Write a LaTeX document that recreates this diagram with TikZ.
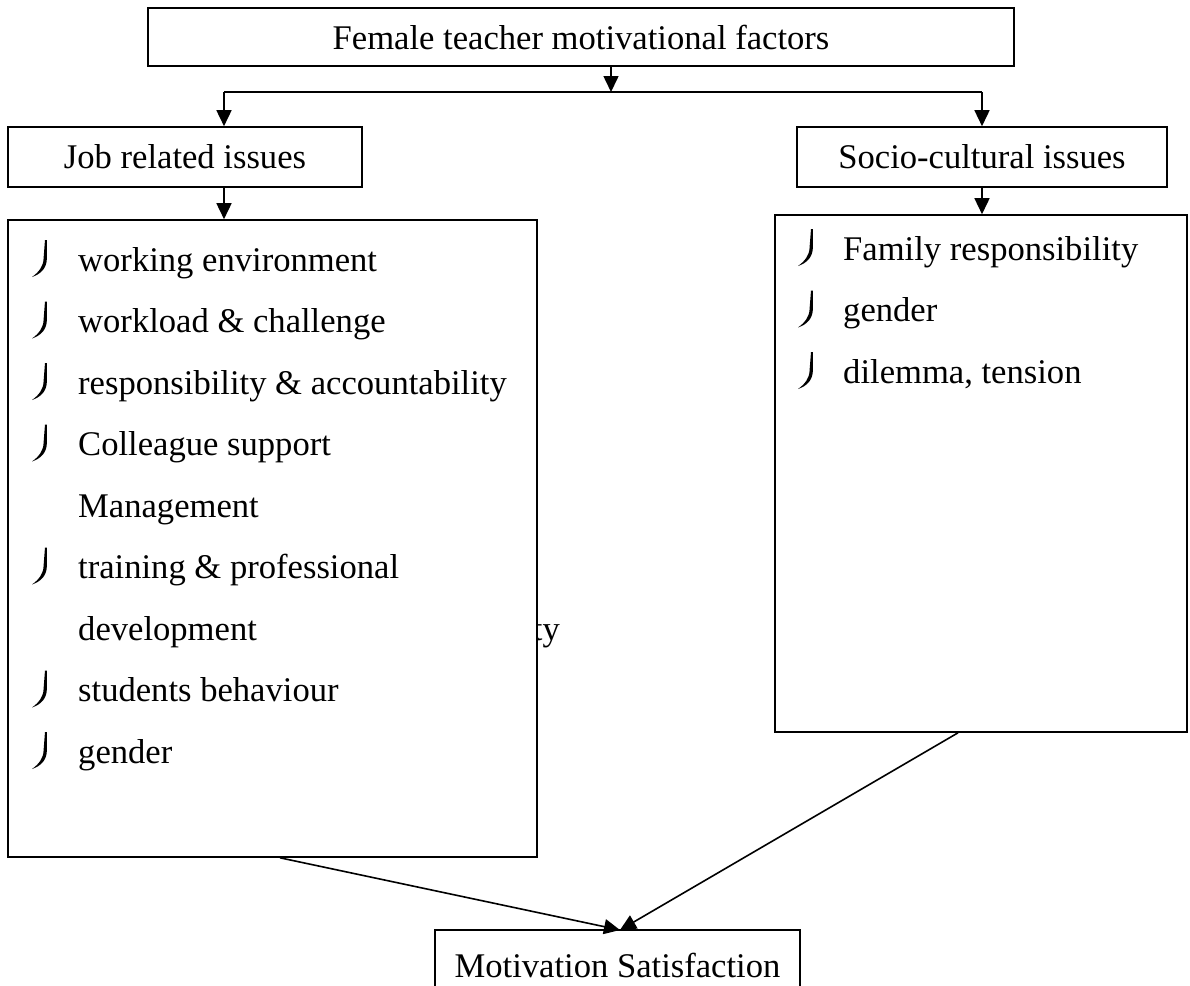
\documentclass[tikz,border=0pt]{standalone}
\usepackage{fontspec}
\setmainfont{Liberation Serif}
\usetikzlibrary{arrows.meta,calc}
\tikzset{
  box/.style={draw, line width=1.6pt, inner sep=0pt, fill=white,
    font=\fontsize{34.6}{40}\selectfont},
  itemtext/.style={anchor=base west, inner sep=0pt,
    font=\fontsize{34.6}{40}\selectfont},
  conn/.style={line width=1.6pt},
  arr/.style={line width=1.6pt, -{Triangle[length=16pt,width=15pt]}},
  bul/.pic={
    \fill (0.9,0) -- (0.9,18) .. controls (0.9,28) and (-5,34) .. (-14,37)
      .. controls (-7,32) and (-2.4,26) .. (-2.4,18) -- (-1.0,0) -- cycle;
  }
}
\begin{document}
\begin{tikzpicture}[x=1pt,y=-1pt]
\useasboundingbox (0,0) rectangle (1190,985);
\clip (0,0) rectangle (1190,985);

% top level
\node[box, minimum width=866pt, minimum height=58pt] (top) at (581,37) {Female teacher motivational factors};
\node[box, minimum width=354pt, minimum height=60pt] (job) at (185,157) {Job related issues};
\node[box, minimum width=370pt, minimum height=60pt] (soc) at (982,157) {Socio-cultural issues};

% hidden text fragment partly covered by the list box
\node[itemtext, anchor=base east] (ty) at (560,640) {ty};

% list boxes
\node[box, minimum width=529pt, minimum height=637pt] (jlist) at (272.5,538.5) {};
\node[box, minimum width=412pt, minimum height=517pt] (slist) at (981,473.5) {};

% bottom box (cut by the page edge)
\node[box, minimum width=365pt, minimum height=70pt] (ms) at (617.5,965) {Motivation Satisfaction};

% left list
\node[itemtext] (j1) at (78,271) {working environment};
\node[itemtext] (j2) at (78,332.5) {workload \& challenge};
\node[itemtext] (j3) at (78,394) {responsibility \& accountability};
\node[itemtext] (j4) at (78,455.5) {Colleague support};
\node[itemtext] (j5) at (78,517) {Management};
\node[itemtext] (j6) at (78,578.5) {training \& professional};
\node[itemtext] (j7) at (78,640) {development};
\node[itemtext] (j8) at (78,701.5) {students behaviour};
\node[itemtext] (j9) at (78,763) {gender};
\foreach \b in {271,332.5,394,455.5,578.5,701.5,763}
  \pic at (46,\b-31) {bul};

% right list
\node[itemtext] (s1) at (843,260) {Family responsibility};
\node[itemtext] (s2) at (843,321.5) {gender};
\node[itemtext] (s3) at (843,383) {dilemma, tension};
\foreach \b in {260,321.5,383}
  \pic at (812,\b-31) {bul};

% connectors
\coordinate (split) at (611,92);
\coordinate (jl) at (224,92);
\coordinate (sr) at (982,92);
\coordinate (lstart) at (280,857);
\coordinate (rstart) at (958,732);
\coordinate (tip) at (620,930);

\draw[arr] (top.south -| split) -- (split);
\draw[conn] (jl) -- (sr);
\draw[arr] (jl) -- (jl |- job.north);
\draw[arr] (sr) -- (sr |- soc.north);
\draw[arr] (job.south -| jl) -- (jl |- jlist.north);
\draw[arr] (soc.south -| sr) -- (sr |- slist.north);
\draw[arr] (jlist.south -| lstart) -- (tip);
\draw[arr] (slist.south -| rstart) -- (tip);
\end{tikzpicture}
\end{document}
